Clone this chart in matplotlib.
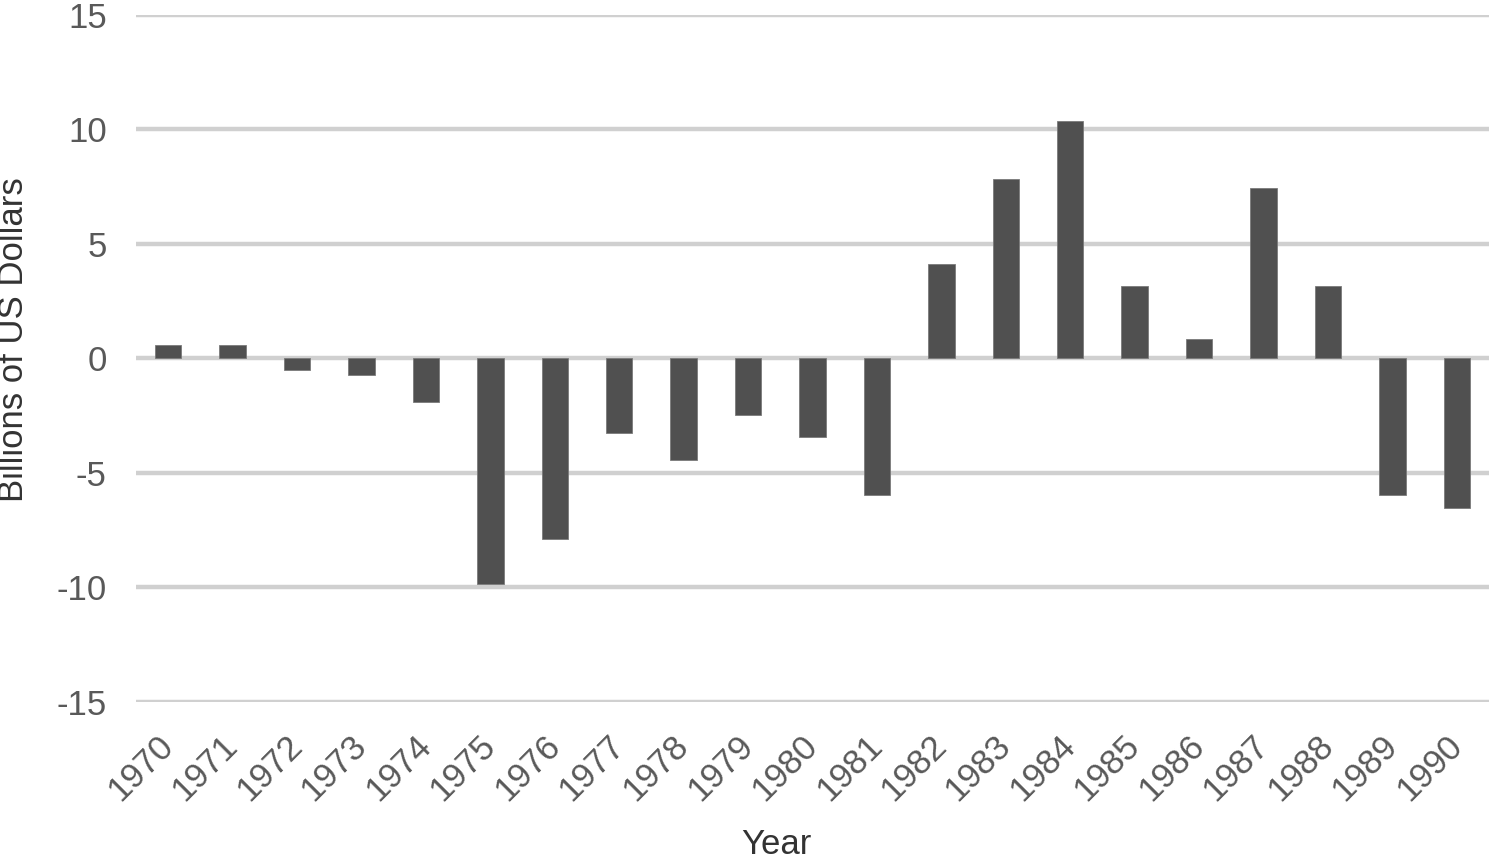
import matplotlib
matplotlib.use("Agg")
import matplotlib.pyplot as plt
import numpy as np

years = [str(y) for y in range(1970, 1991)]
values = [0.6, 0.6, -0.52, -0.72, -1.9, -9.87, -7.9, -3.26, -4.43, -2.47, -3.45,
          -5.96, 4.14, 7.82, 10.36, 3.16, 0.84, 7.43, 3.16, -5.97, -6.55]
y_ticks = [-15, -10, -5, 0, 5, 10, 15]

plt.rcParams['font.family'] = ['Liberation Sans', 'DejaVu Sans']
text_col = '#595959'

fig = plt.figure(figsize=(14.89, 8.61), dpi=100)
ax = fig.add_axes([0.0913, 0.1847, 0.9087, 0.7979])

x = np.arange(len(years))
ax.bar(x, values, width=0.41, color='#505050', edgecolor='#7a7a7a', linewidth=0.6, zorder=3)

ax.set_ylim(-15, 15)
ax.set_xlim(-0.5, len(years) - 0.5)
ax.set_yticks(y_ticks)
ax.set_yticklabels([str(t) for t in y_ticks], fontsize=25, color=text_col)
ax.yaxis.grid(True, color='#d0d0d0', linewidth=3.2, zorder=0)
ax.set_axisbelow(True)

ax.set_xticks(x)
ax.set_xticklabels(years, rotation=45, ha='right', va='center', rotation_mode='anchor',
                   fontsize=25, color=text_col)
ax.tick_params(axis='both', length=0)
ax.tick_params(axis='y', pad=21)
ax.tick_params(axis='x', pad=28)

for s in ax.spines.values():
    s.set_visible(False)

ax.set_ylabel('Billions of US Dollars', fontsize=25, color='#333333')
ax.yaxis.set_label_coords(-0.078, 0.527)
ax.set_xlabel('Year', fontsize=25, color='#333333')
ax.xaxis.set_label_coords(0.473, -0.184)

fig.savefig('out.png', dpi=100)
